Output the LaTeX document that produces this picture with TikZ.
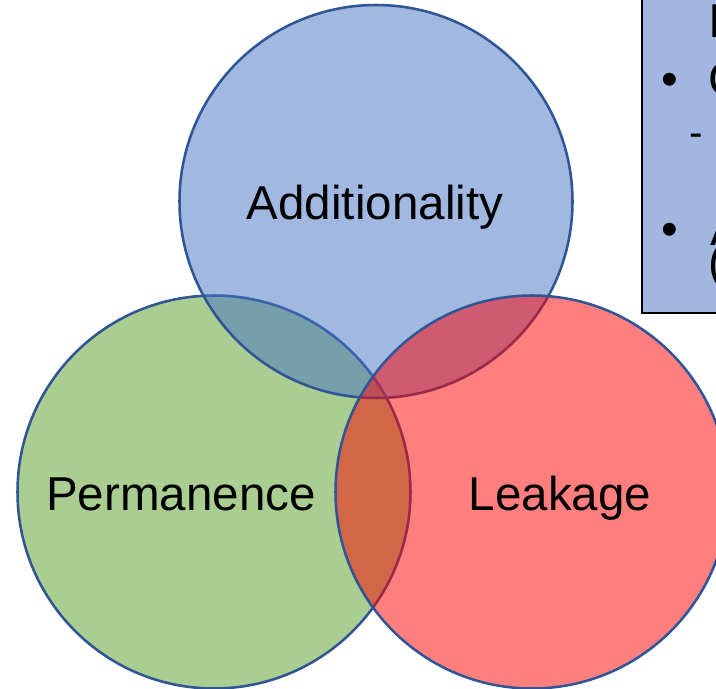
\documentclass[tikz,border=0pt]{standalone}
\usepackage{fontspec}
\setmainfont{Liberation Sans}
\usepackage{xcolor}
\usepackage{tikz}

\definecolor{ringblue}{HTML}{2F5597}
\definecolor{addblue}{HTML}{4472C4}
\definecolor{permgreen}{HTML}{70AD47}
\definecolor{leakred}{HTML}{FF0000}
\definecolor{boxblue}{HTML}{A1B7E1}

\tikzset{
    venn/.style={draw=ringblue, line width=1.8pt},
    lbl/.style={anchor=base, inner sep=0pt, font=\fontsize{33.8}{40}\selectfont},
    boxtxt/.style={anchor=base west, inner sep=0pt, font=\fontsize{33.8}{40}\selectfont},
    bul/.style={anchor=base, inner sep=0pt, font=\fontsize{33.8}{40}\selectfont},
}

\begin{document}
\begin{tikzpicture}[x=0.025cm, y=-0.025cm]
    \useasboundingbox (0,0) rectangle (716,689);
    \clip (0,0) rectangle (716,689);
    \fill[white] (0,0) rectangle (716,689);

    \draw[venn, fill=permgreen, fill opacity=0.59] (214,492) circle (196.5);
    \draw[venn, fill=addblue, fill opacity=0.5] (376,201.5) circle (196.5);
    \draw[venn, fill=leakred, fill opacity=0.5] (532,492) circle (196.5);

    \node[lbl] (additionality) at (375,219) {Additionality};
    \node[lbl] (permanence) at (181,510) {Permanence};
    \node[lbl] (leakage) at (560,510) {Leakage};

    % cropped note box
    \draw[fill=boxblue, line width=1.4pt] (642,-10) rectangle (740,313);
    \node[boxtxt] (head) at (708.5,38) {I};
    \node[bul] (bulA) at (670,96) {•};
    \node[boxtxt] (lineA) at (708.5,96) {C};
    \node[bul, font=\fontsize{29}{34}\selectfont] (dashA) at (696,147) {-};
    \node[bul] (bulB) at (670,245) {•};
    \node[boxtxt] (lineB) at (710,245) {A};
    \node[boxtxt] (lineC) at (708.7,278) {(};
\end{tikzpicture}
\end{document}
